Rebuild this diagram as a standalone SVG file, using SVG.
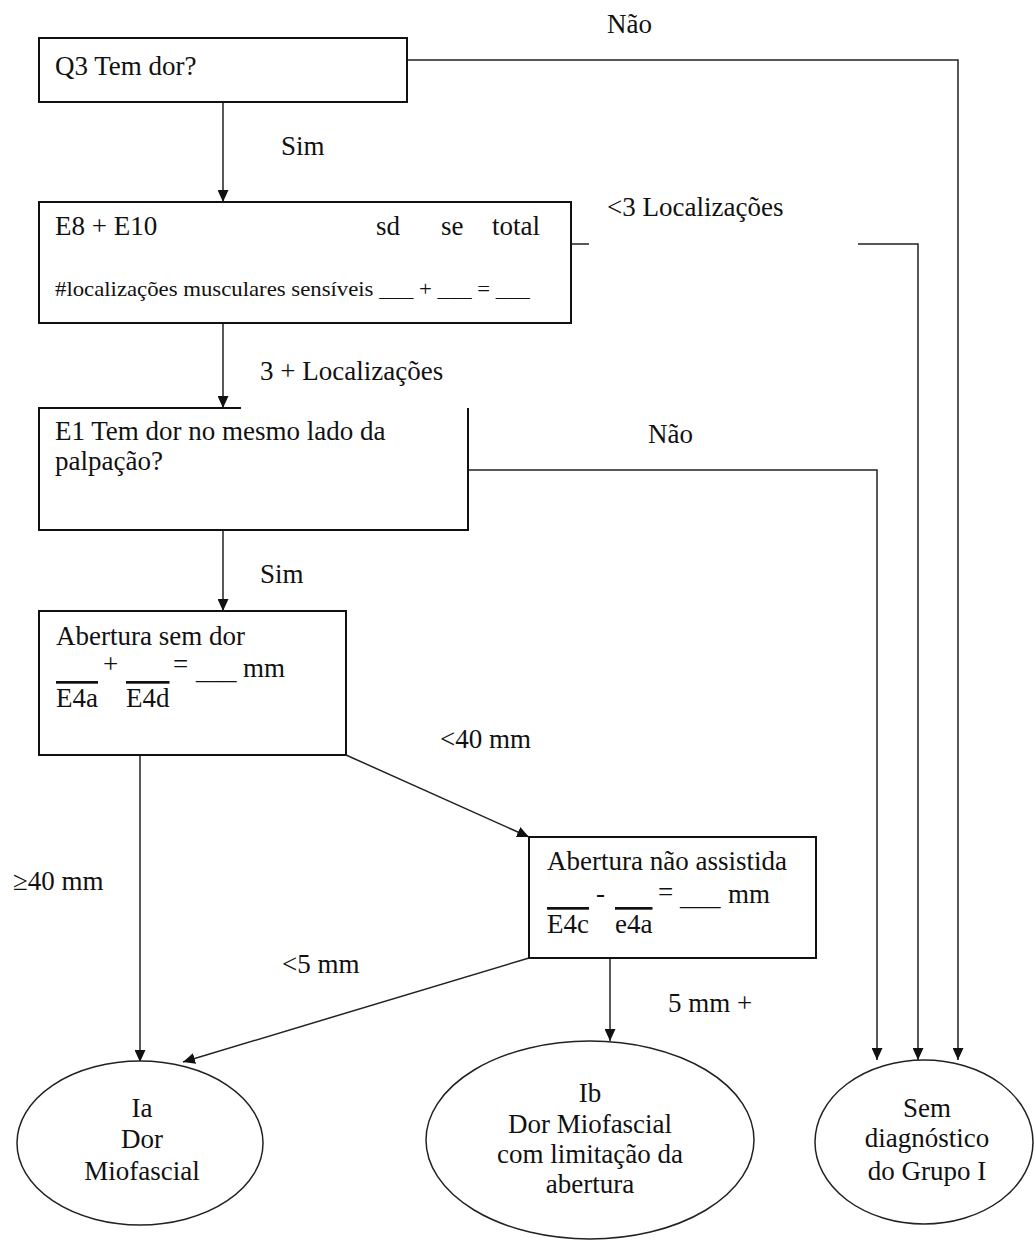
<svg xmlns="http://www.w3.org/2000/svg" width="1035" height="1244" viewBox="0 0 1035 1244">
  <defs>
    <marker id="arrow" markerUnits="userSpaceOnUse" markerWidth="12" markerHeight="11" refX="12" refY="5.5" orient="auto">
      <path d="M0,0 L12,5.5 L0,11 Z" fill="#111"/>
    </marker>
    <style>
      text { font-family: "Liberation Serif", "Times New Roman", serif; font-size: 27px; fill: #111; }
      .small { font-size: 22px; }
      .mid { text-anchor: middle; }
      .over { text-decoration: overline; }
      .box { fill: #fff; stroke: #111; stroke-width: 2; }
      .oval { fill: #fff; stroke: #222; stroke-width: 1.5; }
      .edge { fill: none; stroke: #222; stroke-width: 1.5; }
      .arrow { marker-end: url(#arrow); }
    </style>
  </defs>

  <rect width="1035" height="1244" fill="#fff"/>

  <!-- connectors -->
  <g id="connectors">
    <path class="edge arrow" d="M223,102 V202"/>
    <path class="edge arrow" d="M407,60 H958 V1060"/>
    <path class="edge" d="M571,244 H589"/>
    <path class="edge arrow" d="M858,244 H918 V1060"/>
    <path class="edge arrow" d="M223,323 V408"/>
    <path class="edge arrow" d="M468,470 H877 V1060"/>
    <path class="edge arrow" d="M223,530 V611"/>
    <path class="edge arrow" d="M346,755 L529,837"/>
    <path class="edge arrow" d="M140,755 V1062"/>
    <path class="edge arrow" d="M529,958 L183,1062"/>
    <path class="edge arrow" d="M610,958 V1041"/>
  </g>

  <!-- edge labels -->
  <g id="labels">
    <text x="607" y="33">Não</text>
    <text x="281" y="155">Sim</text>
    <text x="607" y="216">&lt;3 Localizações</text>
    <text x="260" y="380">3 + Localizações</text>
    <text x="648" y="443">Não</text>
    <text x="260" y="583">Sim</text>
    <text x="440" y="748">&lt;40 mm</text>
    <text x="13" y="890">≥40 mm</text>
    <text x="282" y="973">&lt;5 mm</text>
    <text x="668" y="1012">5 mm +</text>
  </g>

  <!-- Q3 -->
  <g id="q3">
    <rect class="box" x="39" y="38" width="368" height="64"/>
    <text x="55" y="75">Q3 Tem dor?</text>
  </g>

  <!-- E8 + E10 -->
  <g id="e8e10">
    <rect class="box" x="39" y="202" width="532" height="121"/>
    <text x="55" y="235">E8 + E10</text>
    <text x="376" y="235">sd</text>
    <text x="441" y="235">se</text>
    <text x="492" y="235">total</text>
    <text class="small" x="55" y="296" textLength="475" lengthAdjust="spacingAndGlyphs">#localizações musculares sensíveis ___ + ___ = ___</text>
  </g>

  <!-- E1 -->
  <g id="e1">
    <path class="box" d="M241,408 H39 V530 H468 V408"/>
    <text x="55" y="440">E1 Tem dor no mesmo lado da</text>
    <text x="55" y="470">palpação?</text>
  </g>

  <!-- Abertura sem dor -->
  <g id="abertura-sem-dor">
    <rect class="box" x="39" y="611" width="307" height="144"/>
    <text x="56" y="645">Abertura sem dor</text>
    <text x="103" y="673">+</text>
    <text x="173" y="673">=</text>
    <text x="196" y="679">___</text>
    <text x="243" y="677">mm</text>
    <text class="over" x="56" y="707">E4a</text>
    <text class="over" x="126" y="707">E4d</text>
  </g>

  <!-- Abertura nao assistida -->
  <g id="abertura-nao-assistida">
    <rect class="box" x="529" y="837" width="287" height="121"/>
    <text x="547" y="870">Abertura não assistida</text>
    <text x="596" y="902">-</text>
    <text x="658" y="901">=</text>
    <text x="680" y="905">___</text>
    <text x="728" y="903">mm</text>
    <text class="over" x="547" y="933">E4c</text>
    <text class="over" x="615" y="933">e4a</text>
  </g>

  <!-- Ia -->
  <g id="ia">
    <ellipse class="oval" cx="140" cy="1143" rx="123" ry="82"/>
    <text class="mid" x="142" y="1117">Ia</text>
    <text class="mid" x="142" y="1148">Dor</text>
    <text class="mid" x="142" y="1180">Miofascial</text>
  </g>

  <!-- Ib -->
  <g id="ib">
    <ellipse class="oval" cx="590" cy="1140" rx="164" ry="99"/>
    <text class="mid" x="590" y="1102">Ib</text>
    <text class="mid" x="590" y="1133">Dor Miofascial</text>
    <text class="mid" x="590" y="1163">com limitação da</text>
    <text class="mid" x="590" y="1193">abertura</text>
  </g>

  <!-- Sem diagnostico -->
  <g id="sem-diagnostico">
    <ellipse class="oval" cx="924" cy="1142" rx="109" ry="82"/>
    <text class="mid" x="927" y="1117">Sem</text>
    <text class="mid" x="927" y="1147">diagnóstico</text>
    <text class="mid" x="927" y="1180">do Grupo I</text>
  </g>
</svg>
